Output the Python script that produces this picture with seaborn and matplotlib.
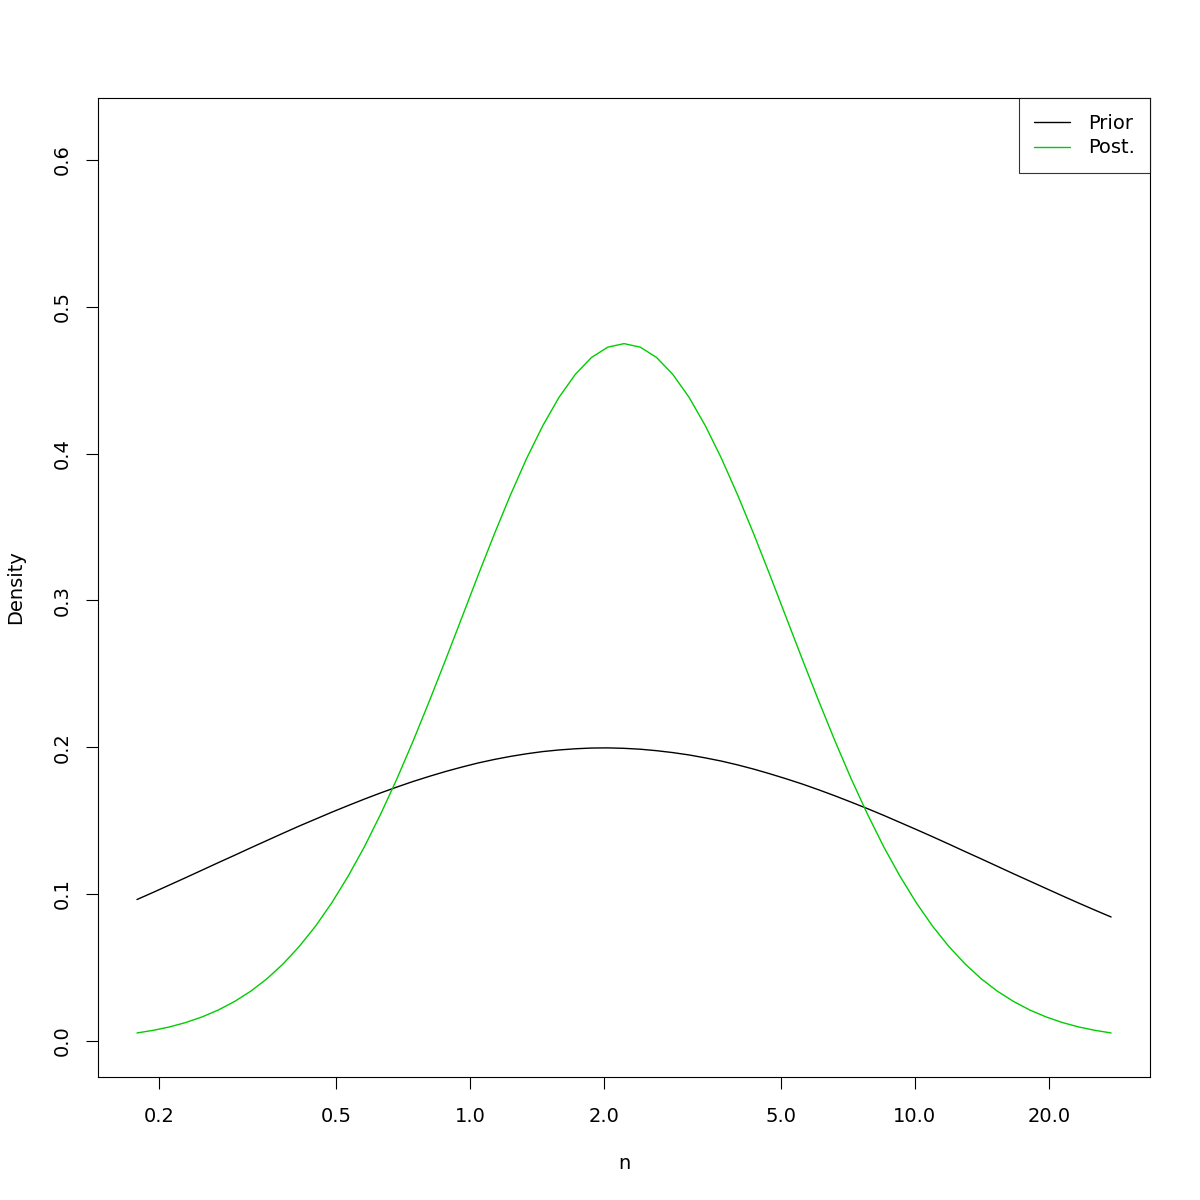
import numpy as np
import pandas as pd
import seaborn as sns
import matplotlib.pyplot as plt
from matplotlib.ticker import FixedLocator, FixedFormatter, NullLocator

# valores (eixo x em escala log)
n_vals = [0.1786, 0.1943, 0.2113, 0.2298, 0.2500, 0.2719, 0.2957, 0.3216, 0.3498,
          0.3805, 0.4137, 0.4500, 0.4894, 0.5323, 0.5790, 0.6297, 0.6849, 0.7449,
          0.8102, 0.8812, 0.9584, 1.0424, 1.1337, 1.2330, 1.3411, 1.4586, 1.5864,
          1.7254, 1.8766, 2.0410, 2.2199, 2.4144, 2.6261, 2.8562, 3.1065, 3.3787,
          3.6748, 3.9968, 4.3472, 4.7281, 5.1424, 5.5930, 6.0833, 6.6164, 7.1962,
          7.8268, 8.5126, 9.2586, 10.070, 10.952, 11.912, 12.956, 14.092, 15.327,
          16.670, 18.131, 19.720, 21.448, 23.327, 25.371, 27.594]
prior = [0.0962, 0.1011, 0.1061, 0.1111, 0.1162, 0.1213, 0.1263, 0.1314, 0.1364,
         0.1414, 0.1463, 0.1510, 0.1557, 0.1602, 0.1646, 0.1688, 0.1728, 0.1766,
         0.1801, 0.1834, 0.1864, 0.1892, 0.1916, 0.1937, 0.1955, 0.1970, 0.1981,
         0.1989, 0.1994, 0.1995, 0.1992, 0.1986, 0.1976, 0.1963, 0.1947, 0.1927,
         0.1905, 0.1879, 0.1850, 0.1818, 0.1784, 0.1748, 0.1709, 0.1668, 0.1625,
         0.1581, 0.1535, 0.1487, 0.1439, 0.1390, 0.1340, 0.1289, 0.1239, 0.1188,
         0.1137, 0.1087, 0.1037, 0.0987, 0.0938, 0.0890, 0.0843]
post = [0.0053, 0.0071, 0.0094, 0.0124, 0.0162, 0.0209, 0.0267, 0.0337, 0.0422,
        0.0524, 0.0643, 0.0781, 0.0940, 0.1120, 0.1320, 0.1542, 0.1782, 0.2040,
        0.2312, 0.2593, 0.2880, 0.3168, 0.3449, 0.3717, 0.3967, 0.4191, 0.4384,
        0.4540, 0.4655, 0.4725, 0.4749, 0.4725, 0.4655, 0.4540, 0.4384, 0.4191,
        0.3967, 0.3717, 0.3449, 0.3168, 0.2880, 0.2593, 0.2312, 0.2040, 0.1782,
        0.1542, 0.1320, 0.1120, 0.0940, 0.0781, 0.0643, 0.0524, 0.0422, 0.0337,
        0.0267, 0.0209, 0.0162, 0.0124, 0.0094, 0.0071, 0.0053]
x_ticks = [0.2, 0.5, 1.0, 2.0, 5.0, 10.0, 20.0]
x_labels = ["0.2", "0.5", "1.0", "2.0", "5.0", "10.0", "20.0"]
y_ticks = [0.0, 0.1, 0.2, 0.3, 0.4, 0.5, 0.6]
y_labels = ["0.0", "0.1", "0.2", "0.3", "0.4", "0.5", "0.6"]

df = pd.DataFrame({
    "n": n_vals * 2,
    "Density": prior + post,
    "curva": ["Prior"] * len(n_vals) + ["Post."] * len(n_vals),
})

sns.set_theme(style="white")
plt.rcParams["font.family"] = ["DejaVu Sans"]
plt.rcParams.update({"text.color": "black", "axes.labelcolor": "black",
                     "xtick.color": "black", "ytick.color": "black"})

fig = plt.figure(figsize=(12, 12), dpi=100)
ax = fig.add_axes([0.0817, 0.1025, 0.8767, 0.8158])

sns.lineplot(data=df, x="n", y="Density", hue="curva",
             palette={"Prior": "black", "Post.": "#00CD00"},
             linewidth=1.0, ax=ax, sort=False, estimator=None)

ax.set_xscale("log")
ax.set_xlim(0.146, 33.76)
ax.set_ylim(-0.0247, 0.6422)

ax.xaxis.set_major_locator(FixedLocator(x_ticks))
ax.xaxis.set_major_formatter(FixedFormatter(x_labels))
ax.xaxis.set_minor_locator(NullLocator())
ax.yaxis.set_major_locator(FixedLocator(y_ticks))
ax.yaxis.set_major_formatter(FixedFormatter(y_labels))

ax.tick_params(axis="both", which="major", direction="out", length=8.6, width=0.8,
               color="black", labelsize=14, pad=13, bottom=True, left=True)
ax.tick_params(axis="y", pad=10)
for lab in ax.get_yticklabels():
    lab.set_rotation(90)
    lab.set_va("center")

for sp in ax.spines.values():
    sp.set_color("black")
    sp.set_linewidth(0.8)

ax.set_xlabel("n", fontsize=14, labelpad=20)
ax.set_ylabel("Density", fontsize=14, labelpad=20)

leg = ax.legend(loc="upper right", borderaxespad=0, fancybox=False,
                fontsize=14, handlelength=1.85, handletextpad=0.9,
                borderpad=0.8, labelspacing=0.3, title=None)
leg.get_frame().set_edgecolor("black")
leg.get_frame().set_linewidth(0.8)

fig.savefig("out.png", dpi=100, facecolor="white")
